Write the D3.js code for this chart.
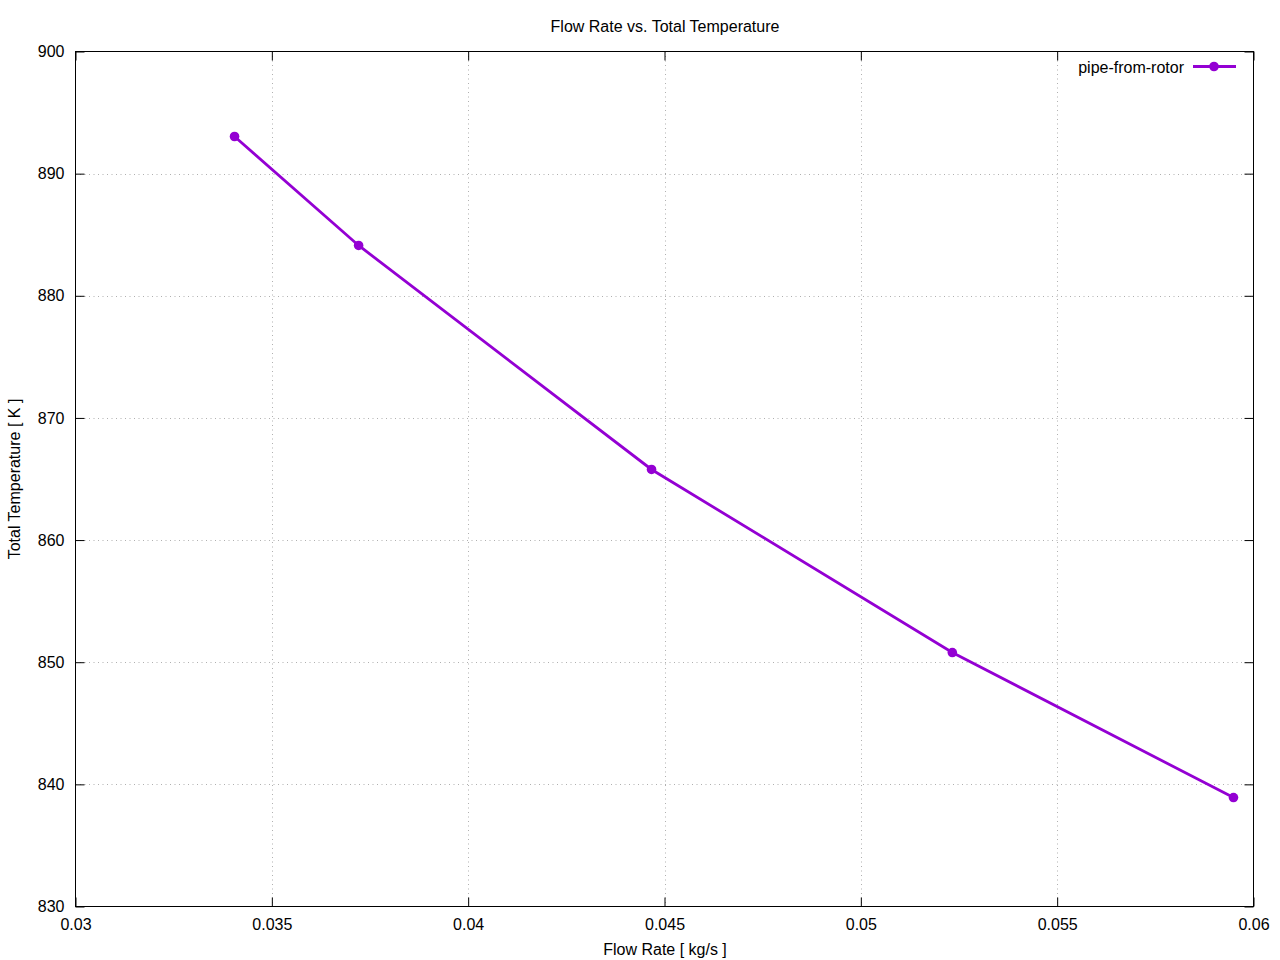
<!DOCTYPE html>
<html><head><meta charset="utf-8">
<script src="https://cdn.jsdelivr.net/npm/d3@7"></script>
<style>body{margin:0;background:#fff}svg{display:block}text{font-family:"Liberation Sans",Arial,sans-serif}</style>
</head><body><svg id="c" width="1280" height="960"></svg>
<script>
const flowRate = [0.03405, 0.03721, 0.04467, 0.05233, 0.05949];
const totalTemp = [893.04, 884.12, 865.78, 850.79, 838.92];
const xTicks = [0.03, 0.035, 0.04, 0.045, 0.05, 0.055, 0.06];
const yTicks = [830, 840, 850, 860, 870, 880, 890, 900];
const seriesName = "pipe-from-rotor";
const color = "#9400D3";

const svg = d3.select("#c");
const L = 75.5, R = 1253.5, T = 51.5, B = 906.5;
const x = d3.scaleLinear().domain([0.03, 0.06]).range([L, R]);
const y = d3.scaleLinear().domain([830, 900]).range([B, T]);

// grid
const grid = svg.append("g").attr("stroke", "#b0b0b0").attr("stroke-width", 1).attr("stroke-dasharray", "1,3.5");
xTicks.slice(1, -1).forEach(v => grid.append("line").attr("x1", Math.round(x(v))+0.5).attr("x2", Math.round(x(v))+0.5).attr("y1", T).attr("y2", B));
yTicks.slice(1, -1).forEach(v => grid.append("line").attr("y1", Math.round(y(v))+0.5).attr("y2", Math.round(y(v))+0.5).attr("x1", L).attr("x2", R));

// axes with inward ticks
const fmtX = d => String(+d.toFixed(3));
const ax = d3.axisBottom(x).tickValues(xTicks).tickSize(-9).tickPadding(12).tickFormat(fmtX);
const axT = d3.axisTop(x).tickValues(xTicks).tickSize(-9).tickFormat("");
const ay = d3.axisLeft(y).tickValues(yTicks).tickSize(-9).tickPadding(11).tickFormat(d3.format("d"));
const ayR = d3.axisRight(y).tickValues(yTicks).tickSize(-9).tickFormat("");
function style(g){ g.select(".domain").remove(); g.selectAll("line").attr("stroke","#000"); g.selectAll("text").attr("font-size","16px").attr("fill","#000").attr("font-family","Liberation Sans, Arial, sans-serif"); }
svg.append("g").attr("transform",`translate(0,${B})`).call(ax).call(style);
svg.append("g").attr("transform",`translate(0,${T})`).call(axT).call(style);
svg.append("g").attr("transform",`translate(${L},0)`).call(ay).call(style);
svg.append("g").attr("transform",`translate(${R},0)`).call(ayR).call(style);
svg.append("rect").attr("x",L).attr("y",T).attr("width",R-L).attr("height",B-T).attr("fill","none").attr("stroke","#000");

// line
const pts = flowRate.map((v,i)=>[v,totalTemp[i]]);
svg.append("path").datum(pts).attr("fill","none").attr("stroke",color).attr("stroke-width",2.8)
  .attr("d", d3.line().x(d=>x(d[0])).y(d=>y(d[1])));
svg.selectAll("circle.pt").data(pts).join("circle").attr("class","pt")
  .attr("cx",d=>x(d[0])).attr("cy",d=>y(d[1])).attr("r",4.8).attr("fill",color);

// title and labels
svg.append("text").attr("x",665).attr("y",32).attr("text-anchor","middle").attr("font-size","16px").text("Flow Rate vs. Total Temperature");
svg.append("text").attr("x",665).attr("y",955).attr("text-anchor","middle").attr("font-size","16px").text("Flow Rate [ kg/s ]");
svg.append("text").attr("transform","translate(20,479) rotate(-90)").attr("text-anchor","middle").attr("font-size","16px").text("Total Temperature [ K ]");

// legend
svg.append("text").attr("x",1184).attr("y",73).attr("text-anchor","end").attr("font-size","16px").text(seriesName);
svg.append("line").attr("x1",1193).attr("x2",1236).attr("y1",66.5).attr("y2",66.5).attr("stroke",color).attr("stroke-width",2.8);
svg.append("circle").attr("cx",1214).attr("cy",66.5).attr("r",4.8).attr("fill",color);
</script></body></html>
